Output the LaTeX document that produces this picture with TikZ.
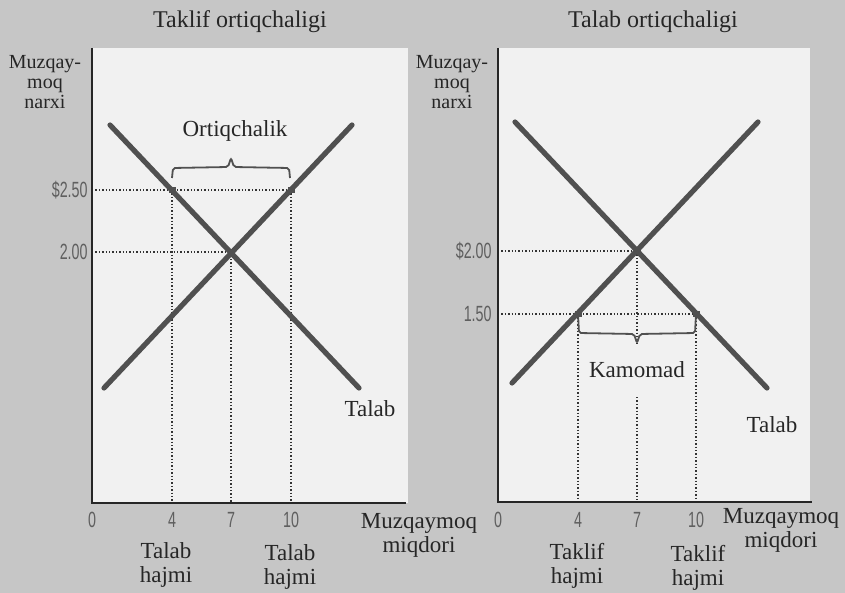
\documentclass[tikz,border=0pt]{standalone}
\usepackage{fontspec}
\setmainfont{Liberation Serif}
\newfontfamily\tickfont[FakeStretch=0.65]{Liberation Sans}
\usetikzlibrary{calc}

\definecolor{pagegray}{RGB}{198,198,198}
\definecolor{plotbg}{RGB}{241,241,241}
\definecolor{curvegray}{RGB}{80,80,80}
\definecolor{tickgray}{RGB}{95,95,95}

\tikzset{
  curve/.style={line width=2.6pt, curvegray, line cap=round},
  axisline/.style={line width=0.8pt, black!85},
  guide/.style={densely dotted, line width=0.7pt, black!80},
  bracket/.style={line width=0.9pt, curvegray, rounded corners=1pt},
  marker/.style={rectangle, fill=curvegray, minimum width=3.5pt, minimum height=3pt, inner sep=0pt},
  ticklab/.style={font=\tickfont\fontsize{11}{11}\selectfont, text=tickgray, inner sep=0pt},
  pricelab/.style={font=\tickfont\fontsize{11}{11}\selectfont, text=tickgray, anchor=east, inner sep=0pt},
  lab/.style={font=\fontsize{11.5}{12}\selectfont, text=black!85, align=center, inner sep=0pt},
  ylab/.style={font=\fontsize{10}{10}\selectfont, text=black!85, align=center, inner sep=0pt},
  titlelab/.style={font=\fontsize{12}{14}\selectfont, text=black!85, inner sep=0pt},
}

\begin{document}
\begin{tikzpicture}[x=0.5pt, y=-0.5pt]
    % Nền
    \fill[pagegray] (0,0) rectangle (845,593);
    \useasboundingbox (0,0) rectangle (845,593);

    % ===== Taklif ortiqchaligi =====
    \fill[plotbg] (92,48) rectangle (408,503);
    \coordinate (O1) at (92,503);
    \coordinate (Y1) at (92,48);
    \coordinate (X1) at (406,503);
    \coordinate (A1) at (172,190);
    \coordinate (B1) at (291,190);
    \coordinate (E1) at (231,252);
    \coordinate (p250) at (92,190);
    \coordinate (p200) at (92,252);

    % dotted guides
    \draw[guide] (p250) -- (B1);
    \draw[guide] (p200) -- (E1);
    \draw[guide] (A1) -- (A1 |- O1);
    \draw[guide] (E1) -- (E1 |- O1);
    \draw[guide] (B1) -- (B1 |- O1);

    % talab va taklif
    \coordinate (D1a) at (110,125);
    \coordinate (D1b) at (359,388);
    \coordinate (S1a) at (104,388);
    \coordinate (S1b) at (352,125);
    \draw[curve] (D1a) -- (D1b);
    \draw[curve] (S1a) -- (S1b);
    \node[marker] (mA1) at (A1) {};
    \node[marker] (mB1) at (B1) {};
    \node[marker] (mE1) at (E1) {};

    % qavs
    \draw[bracket] (172,178) -- (173,168) -- (228,167) -- (231,158) -- (234,167) -- (289,168) -- (290,178);

    % o'qlar
    \draw[axisline] (Y1) -- (O1) -- (X1);

    % yozuvlar
    \node[titlelab] (title1) at (240,22) {Taklif ortiqchaligi};
    \node[ylab] (ylab1) at (45,82) {Muzqay-\\moq\\narxi};
    \node[pricelab] (pr250) at (88,190) {\$2.50};
    \node[pricelab] (pr200) at (88,252) {2.00};
    \node[ticklab] (t0l) at (92,520) {0};
    \node[ticklab] (t4l) at (172,520) {4};
    \node[ticklab] (t7l) at (231,520) {7};
    \node[ticklab] (t10l) at (291,520) {10};
    \node[lab] (xlab1) at (419,535) {Muzqaymoq\\miqdori};
    \node[lab] (qd1) at (166,565) {Talab\\hajmi};
    \node[lab] (qd2) at (290,567) {Talab\\hajmi};
    \node[lab] (dem1) at (370,409) {Talab};
    \node[lab] (exc) at (235,131) {Ortiqchalik};

    % ===== Talab ortiqchaligi =====
    \fill[plotbg] (498,48) rectangle (810,502);
    \coordinate (O2) at (498,502);
    \coordinate (Y2) at (498,48);
    \coordinate (X2) at (812,502);
    \coordinate (A2) at (578,314);
    \coordinate (B2) at (696,314);
    \coordinate (E2) at (637,251);
    \coordinate (q200) at (498,251);
    \coordinate (q150) at (498,314);
    \coordinate (tip2) at (637,343);
    \coordinate (gap2) at (637,397);

    % dotted guides
    \draw[guide] (q200) -- (E2);
    \draw[guide] (q150) -- (B2);
    \draw[guide] (A2) -- (A2 |- O2);
    \draw[guide] (B2) -- (B2 |- O2);
    \draw[guide] (E2) -- (tip2);
    \draw[guide] (gap2) -- (gap2 |- O2);

    % talab va taklif
    \coordinate (D2a) at (515,122);
    \coordinate (D2b) at (767,388);
    \coordinate (S2a) at (512,383);
    \coordinate (S2b) at (758,122);
    \draw[curve] (D2a) -- (D2b);
    \draw[curve] (S2a) -- (S2b);
    \node[marker] (mA2) at (A2) {};
    \node[marker] (mB2) at (B2) {};
    \node[marker] (mE2) at (E2) {};

    % qavs
    \draw[bracket] (578,314) -- (579,333) -- (634,334) -- (tip2) -- (640,334) -- (695,333) -- (696,314);

    % o'qlar
    \draw[axisline] (Y2) -- (O2) -- (X2);

    % yozuvlar
    \node[titlelab] (title2) at (653,22) {Talab ortiqchaligi};
    \node[ylab] (ylab2) at (452,82) {Muzqay-\\moq\\narxi};
    \node[pricelab] (pr200r) at (492,251) {\$2.00};
    \node[pricelab] (pr150r) at (492,314) {1.50};
    \node[ticklab] (t0r) at (498,520) {0};
    \node[ticklab] (t4r) at (578,520) {4};
    \node[ticklab] (t7r) at (637,520) {7};
    \node[ticklab] (t10r) at (696,520) {10};
    \node[lab] (xlab2) at (781,530) {Muzqaymoq\\miqdori};
    \node[lab] (qs1) at (577,566) {Taklif\\hajmi};
    \node[lab] (qs2) at (698,568) {Taklif\\hajmi};
    \node[lab] (dem2) at (772,425) {Talab};
    \node[lab] (short) at (637,370) {Kamomad};
\end{tikzpicture}
\end{document}
